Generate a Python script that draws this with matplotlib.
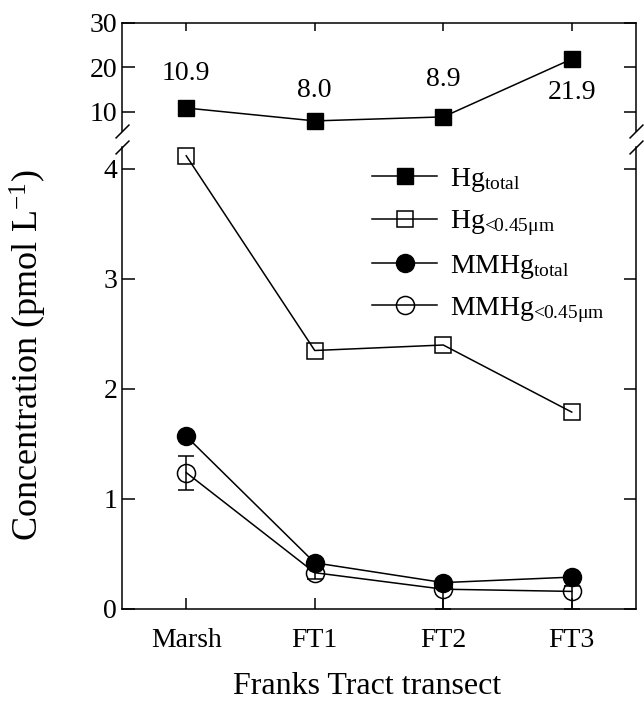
import matplotlib
matplotlib.use("Agg")
import matplotlib.pyplot as plt
import numpy as np

plt.rcParams['font.family'] = ['Liberation Serif', 'DejaVu Serif']
plt.rcParams['mathtext.fontset'] = 'custom'
plt.rcParams['mathtext.rm'] = 'Liberation Serif'
plt.rcParams['mathtext.it'] = 'Liberation Serif:italic'
plt.rcParams['font.size'] = 20

# data
sites = ["Marsh", "FT1", "FT2", "FT3"]
hg_total = [10.9, 8.0, 8.9, 21.9]
hg_filt = [4.12, 2.35, 2.40, 1.79]
mmhg_total = [1.57, 0.42, 0.24, 0.29]
mmhg_filt = [1.24, 0.33, 0.18, 0.16]
mmhg_filt_err_lo = [0.16, 0.06, 0.18, 0.16]
mmhg_filt_err_hi = [0.15, 0.05, 0.05, 0.05]

x = np.arange(len(sites))
W, H = 644, 705
LW = 1.1

fig = plt.figure(figsize=(W / 100, H / 100), dpi=100)
left, right = 122, 636
ax_top = fig.add_axes([left / W, 1 - 131 / H, (right - left) / W, (131 - 23) / H])
ax_bot = fig.add_axes([left / W, 1 - 609 / H, (right - left) / W, (609 - 147) / H])

# top panel
ax_top.plot(x, hg_total, color='k', lw=LW, marker='s', ms=12, mfc='k', mec='k')
offsets = [25, 22, 27, -24]
for i, v in enumerate(hg_total):
    ax_top.annotate(f"{v:.1f}", (x[i], v), xytext=(0, offsets[i]),
                    textcoords='offset points', ha='center', va='center')
ax_top.set_xlim(-0.5, 3.5)
ax_top.set_ylim(5.73, 30)
ax_top.set_yticks([10, 20, 30])
ax_top.set_xticks(x)
ax_top.tick_params(axis='x', direction='in', top=True, bottom=False,
                   labelbottom=False, length=6, width=LW)
ax_top.tick_params(axis='y', direction='in', right=True, length=9, width=LW)
ax_top.spines['bottom'].set_visible(False)

# bottom panel
ax_bot.errorbar(x, mmhg_filt, yerr=[mmhg_filt_err_lo, mmhg_filt_err_hi],
                fmt='none', ecolor='k', elinewidth=LW, capsize=6, capthick=LW)
l2, = ax_bot.plot(x, hg_filt, color='k', lw=LW, marker='s', ms=12,
                  mfc='none', mec='k', mew=LW)
l4, = ax_bot.plot(x, mmhg_filt, color='k', lw=LW, marker='o', ms=13,
                  mfc='none', mec='k', mew=LW)
l3, = ax_bot.plot(x, mmhg_total, color='k', lw=LW, marker='o', ms=13,
                  mfc='k', mec='k')
l1, = ax_bot.plot([], [], color='k', lw=LW, marker='s', ms=12, mfc='k', mec='k')
ax_bot.set_xlim(-0.5, 3.5)
ax_bot.set_ylim(0, 4.2)
ax_bot.set_yticks([0, 1, 2, 3, 4])
ax_bot.set_xticks(x)
ax_bot.set_xticklabels(sites)
ax_bot.tick_params(axis='x', direction='in', length=8, width=LW, pad=14)
ax_bot.tick_params(axis='y', direction='in', right=True, length=9, width=LW)
ax_bot.spines['top'].set_visible(False)

for ax in (ax_top, ax_bot):
    for s in ax.spines.values():
        s.set_linewidth(LW)

# break marks
for ax, yb in ((ax_top, 0), (ax_bot, 1)):
    ax.plot([0, 1], [yb, yb], transform=ax.transAxes, linestyle='none',
            marker=[(-1, -1), (1, 1)], ms=10, mec='k', mew=LW, clip_on=False)

leg = ax_bot.legend([l1, l2, l3, l4],
                    [r"Hg$_{\mathrm{total}}$", r"Hg$_{\!<\!\!0.45\mathrm{μm}}$",
                     r"MMHg$_{\mathrm{total}}$", r"MMHg$_{\!<\!\!0.45\mathrm{μm}}$"],
                    loc='upper left', bbox_to_anchor=(372 / W, 1 - 166 / H),
                    bbox_transform=fig.transFigure, frameon=False,
                    handlelength=2.35, handletextpad=0.47, borderpad=0,
                    borderaxespad=0, labelspacing=0.52)

fig.text(28 / W, 1 - 355 / H, r"Concentration (pmol L$^{\mathrm{-1}}$)",
         rotation=90, ha='center', va='center', fontsize=26)
fig.text(367 / W, 1 - 687 / H, "Franks Tract transect", ha='center', va='center',
         fontsize=23)

fig.savefig("out.png", dpi=100)
